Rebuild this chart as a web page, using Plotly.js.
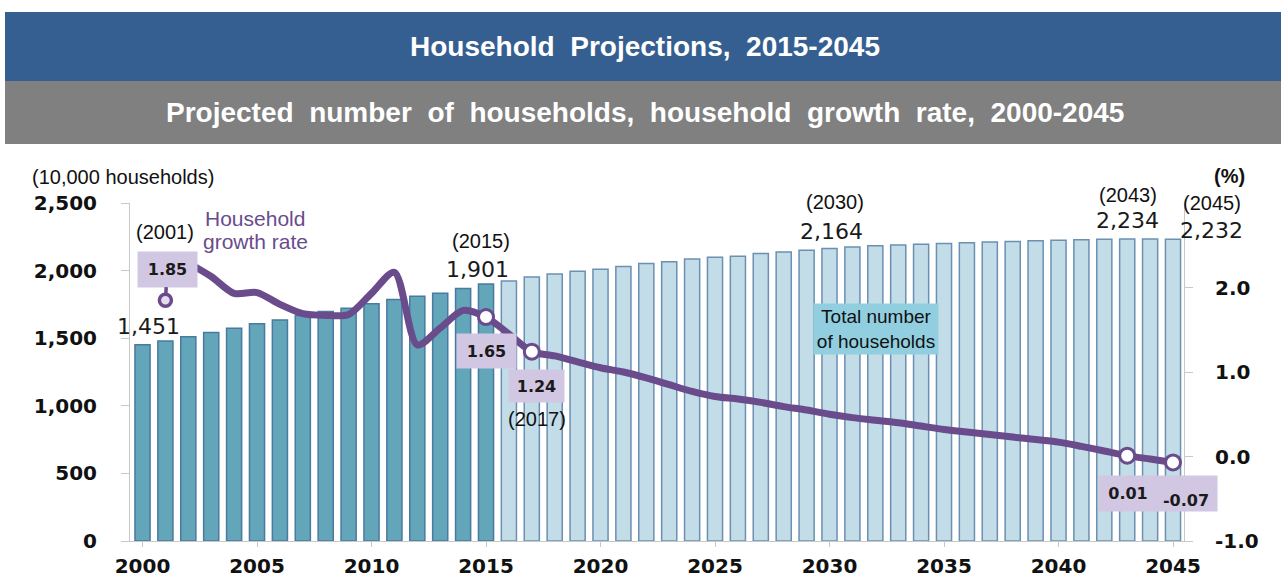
<!DOCTYPE html>
<html>
<head>
<meta charset="utf-8">
<script src="https://cdn.plot.ly/plotly-3.0.1.min.js"></script>
<style>html,body{margin:0;padding:0;background:#fff;}#chart{width:1284px;height:585px;}</style>
</head>
<body>
<div id="chart"></div>
<script>
// ---- data ----
const years = [2000,2001,2002,2003,2004,2005,2006,2007,2008,2009,2010,2011,2012,2013,2014,2015,
  2016,2017,2018,2019,2020,2021,2022,2023,2024,2025,2026,2027,2028,2029,2030,
  2031,2032,2033,2034,2035,2036,2037,2038,2039,2040,2041,2042,2043,2044,2045];
const households = [1451,1479,1510,1542,1574,1607,1634,1668,1698,1722,1754,1787,1810,1832,1868,1901,
  1924,1953,1975,1996,2010,2030,2052,2066,2085,2098,2107,2126,2138,2151,2164,
  2175,2184,2189,2195,2201,2206,2211,2216,2220,2224,2228,2231,2234,2233,2232];
const lastActualYear = 2015;

const growthYears = [2001,2002,2003,2004,2005,2006,2007,2008,2009,2010,2011,2012,2013,2014,2015,
  2016,2017,2018,2019,2020,2021,2022,2023,2024,2025,2026,2027,2028,2029,2030,
  2031,2032,2033,2034,2035,2036,2037,2038,2039,2040,2041,2042,2043,2044,2045];
const growthRate = [1.85,2.29,2.13,1.93,1.94,1.80,1.69,1.67,1.68,1.93,2.18,1.32,1.52,1.73,1.65,
  1.45,1.24,1.19,1.12,1.05,1.00,0.93,0.85,0.77,0.71,0.68,0.64,0.59,0.55,0.50,
  0.46,0.43,0.40,0.36,0.32,0.29,0.26,0.23,0.20,0.17,0.12,0.065,0.01,-0.03,-0.07];
const growthMarkedYears = [2015, 2017, 2043, 2045];
const growthLeaderYear = 2001;

const hhLabelYears = [2000, 2015, 2030, 2043, 2045];
const xTickVals = [2000,2005,2010,2015,2020,2025,2030,2035,2040,2045];
const yTickVals = [0,500,1000,1500,2000,2500];
const yTickText = ['0','500','1,000','1,500','2,000','2,500'];
const y2TickVals = [-1,0,1,2];
const y2TickText = ['-1.0','0.0','1.0','2.0'];

// ---- styling helpers ----
const PURPLE = '#6a4b8c';
const LAV = '#d2c7e2';
const fmtK = v => v.toLocaleString('en-US');
const hh = y => households[years.indexOf(y)];
const gr = y => growthRate[growthYears.indexOf(y)];
const px = p => (p - 130) / 1054;
const py = p => (541 - p) / 338;

const barFill = years.map(y => y <= lastActualYear ? '#63a5b9' : '#c2dde7');
const barLine = years.map(y => y <= lastActualYear ? '#4a7aa0' : '#6b90b2');

const lineIdx = growthYears.map((y,i)=>i).filter(i => growthYears[i] > growthLeaderYear);
const markIdx = growthYears.map((y,i)=>i).filter(i => growthMarkedYears.includes(growthYears[i]));

const traces = [
  {type:'bar', x:years, y:households, width:0.66,
   marker:{color:barFill, line:{color:barLine, width:1.5}}, hoverinfo:'skip'},
  {type:'scatter', mode:'lines', yaxis:'y2',
   x:lineIdx.map(i=>growthYears[i]), y:lineIdx.map(i=>growthRate[i]),
   line:{color:PURPLE, width:7, shape:'spline', smoothing:0.8}, hoverinfo:'skip'},
  {type:'scatter', mode:'markers', yaxis:'y2',
   x:markIdx.map(i=>growthYears[i]), y:markIdx.map(i=>growthRate[i]),
   marker:{size:15, color:'#ffffff', line:{color:PURPLE, width:3}}, hoverinfo:'skip'},
  {type:'scatter', mode:'markers', yaxis:'y2',
   x:[growthLeaderYear], y:[gr(growthLeaderYear)],
   marker:{size:12, color:'#e4dcef', line:{color:PURPLE, width:3.5}}, hoverinfo:'skip'}
];

const fNum = {family:'DejaVu Sans', size:22, color:'#1a1a1a'};
const fYear = {family:'Liberation Sans, Arial', size:20, color:'#111'};
const fBox = {family:'DejaVu Sans', size:16, color:'#1a1a1a', weight:'bold'};

const ann = [];
const paperText = (x, y, text, font, extra) => Object.assign({xref:'paper', yref:'paper',
  x:px(x), y:py(y), xanchor:'center', yanchor:'middle', showarrow:false, text:text, font:font}, extra || {});
// header subtitle
ann.push(paperText(645, 113,
  'Projected&nbsp; number&nbsp; of&nbsp; households,&nbsp; household&nbsp; growth&nbsp; rate,&nbsp; 2000-2045',
  {family:'Liberation Sans, Arial', size:28, color:'#ffffff', weight:'bold'}));
// axis captions
ann.push(paperText(30, 177, '(10,000 households)', fYear, {xanchor:'left'}));
ann.push(paperText(1229, 176, '(%)', {family:'Liberation Sans, Arial', size:20, color:'#111', weight:'bold'}));
// series captions
ann.push(paperText(255, 218, 'Household', {family:'Liberation Sans, Arial', size:21, color:PURPLE}));
ann.push(paperText(255, 241, 'growth rate', {family:'Liberation Sans, Arial', size:21, color:PURPLE}));
ann.push(paperText(876, 329, 'Total number<br>of households',
  {family:'Liberation Sans, Arial', size:19, color:'#111'},
  {bgcolor:'#91cfe0', width:122, height:48}));

// household value labels
const hhShift = {2000:[6,18,null], 2015:[-9,14,43], 2030:[2,17,46], 2043:[0,18,44], 2045:[38,9,36]};
hhLabelYears.forEach(y => {
  const s = hhShift[y];
  ann.push({x:y, y:hh(y), xref:'x', yref:'y', showarrow:false, xshift:s[0], yshift:s[1],
    text:fmtK(hh(y)), font:fNum});
  if (s[2] !== null) ann.push({x:y, y:hh(y), xref:'x', yref:'y', showarrow:false,
    xshift:s[0] + (y===2015?4:(y===2030?3:1)), yshift:s[2], text:'('+y+')', font:fYear});
});

// growth labels
ann.push({x:growthLeaderYear, y:py(232), xref:'x', yref:'paper', yanchor:'middle', showarrow:false,
  text:'('+growthLeaderYear+')', font:fYear});
ann.push({x:growthLeaderYear, y:gr(growthLeaderYear), xref:'x', yref:'y2',
  showarrow:true, ax:2, ay:-31, arrowhead:0, arrowwidth:3.5, arrowcolor:PURPLE, standoff:5,
  text:gr(growthLeaderYear).toFixed(2), bgcolor:LAV, width:57, height:33, font:fBox});
ann.push({x:2015, y:gr(2015), xref:'x', yref:'y2', showarrow:false, yshift:-34,
  text:gr(2015).toFixed(2), bgcolor:LAV, width:57, height:32, font:fBox});
ann.push({x:2017, y:gr(2017), xref:'x', yref:'y2', showarrow:false, xshift:5, yshift:-34,
  text:gr(2017).toFixed(2), bgcolor:LAV, width:53, height:30, font:fBox});
ann.push({x:2017, y:gr(2017), xref:'x', yref:'y2', showarrow:false, xshift:5, yshift:-67,
  text:'(2017)', font:fYear});
ann.push({x:2045, y:gr(2045), xref:'x', yref:'y2', showarrow:false, xshift:12.5, yshift:-31,
  text:gr(2045).toFixed(2), bgcolor:LAV, width:60, height:33, valign:'bottom', font:fBox});
ann.push({x:2043, y:gr(2043), xref:'x', yref:'y2', showarrow:false, xshift:0.5, yshift:-38,
  text:gr(2043).toFixed(2), bgcolor:LAV, width:56, height:33, font:fBox});

const tickFont = {family:'DejaVu Sans', size:20, color:'#111', weight:'bold'};
const layout = {
  width:1284, height:585,
  margin:{l:130, r:100, t:203, b:44, pad:0},
  paper_bgcolor:'#ffffff', plot_bgcolor:'#ffffff',
  showlegend:false, bargap:0.34,
  title:{text:'Household&nbsp; Projections,&nbsp; 2015-2045', x:645/1284, xanchor:'center',
    y:1-46/585, yanchor:'middle', xref:'container', yref:'container',
    font:{family:'Liberation Sans, Arial', size:28, color:'#ffffff', weight:'bold'}},
  xaxis:{range:[1999.454, 2045.48], tickvals:xTickVals, ticks:'outside', ticklen:5,
    tickcolor:'#c8c8c8', showline:true, linecolor:'#c8c8c8', linewidth:1, showgrid:false,
    zeroline:false, tickfont:tickFont, ticklabelstandoff:2, fixedrange:true},
  yaxis:{range:[0,2500], tickvals:yTickVals, ticktext:yTickText, ticks:'outside', ticklen:8,
    tickcolor:'#c8c8c8', showline:true, linecolor:'#c8c8c8', showgrid:false, zeroline:false,
    tickfont:tickFont, ticklabelstandoff:20},
  yaxis2:{range:[-1,3], overlaying:'y', side:'right', tickvals:y2TickVals, ticktext:y2TickText,
    ticks:'outside', ticklen:8, tickcolor:'#c8c8c8', showline:true, linecolor:'#c8c8c8',
    showgrid:false, zeroline:false, tickfont:tickFont, ticklabelstandoff:18},
  shapes:[
    {type:'rect', xref:'paper', yref:'paper', x0:px(5), x1:px(1281), y0:py(81), y1:py(12),
     fillcolor:'#365f91', line:{width:0}, layer:'below'},
    {type:'rect', xref:'paper', yref:'paper', x0:px(5), x1:px(1281), y0:py(144), y1:py(81),
     fillcolor:'#808080', line:{width:0}, layer:'below'}
  ],
  annotations:ann
};
Plotly.newPlot('chart', traces, layout, {staticPlot:true, displayModeBar:false});
</script>
</body>
</html>
